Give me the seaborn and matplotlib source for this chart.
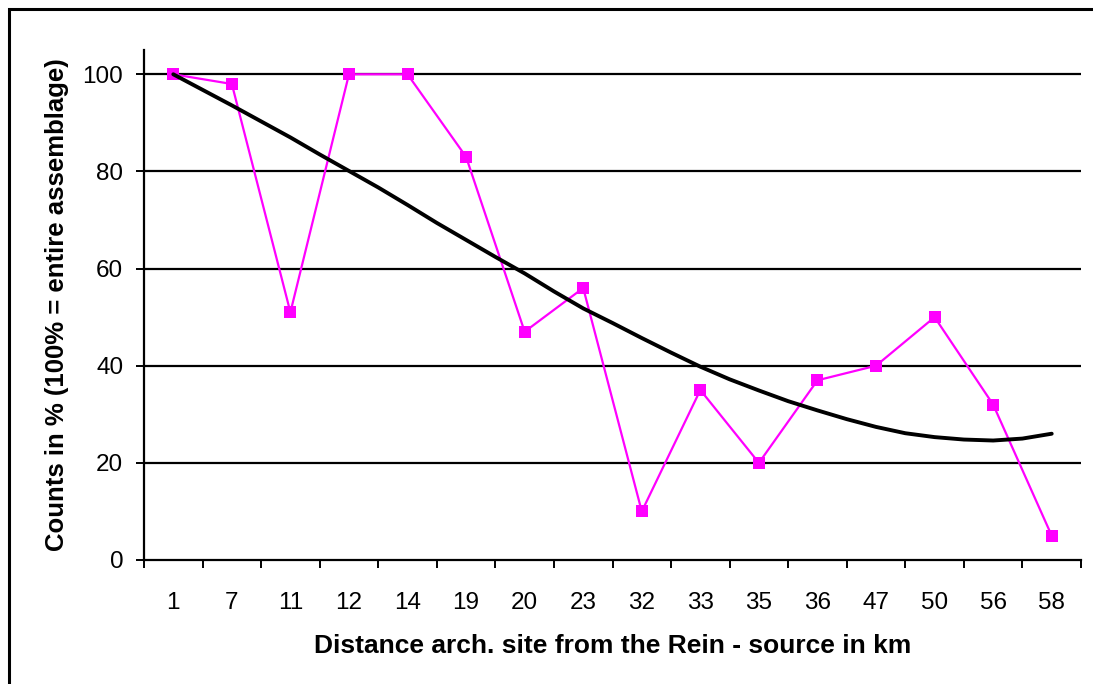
import matplotlib
matplotlib.use("Agg")
import matplotlib.pyplot as plt
import seaborn as sns
import pandas as pd
from matplotlib.patches import Rectangle

sns.set_theme(style="white")
plt.rcParams['font.family'] = ['Liberation Sans', 'DejaVu Sans']

categories = ["1", "7", "11", "12", "14", "19", "20", "23", "32", "33", "35", "36", "47", "50", "56", "58"]
counts = [100, 98, 51, 100, 100, 83, 47, 56, 10, 35, 20, 37, 40, 50, 32, 5]

# trend line, at category positions and half steps
trend_pos = [0, 0.5, 1, 1.5, 2, 2.5, 3, 3.5, 4, 4.5, 5, 5.5, 6, 6.5, 7, 7.5,
             8, 8.5, 9, 9.5, 10, 10.5, 11, 11.5, 12, 12.5, 13, 13.5, 14, 14.5, 15]
trend_val = [100, 96.8, 93.6, 90.3, 87.0, 83.5, 80.1, 76.7, 73.1, 69.4, 65.9, 62.4,
             59.0, 55.3, 51.8, 48.8, 45.7, 42.7, 39.8, 37.2, 34.9, 32.7, 30.8, 29.0,
             27.4, 26.1, 25.3, 24.8, 24.6, 25.0, 26.0]

df = pd.DataFrame({"pos": range(len(categories)), "count": counts})
tr = pd.DataFrame({"pos": trend_pos, "val": trend_val})

fig = plt.figure(figsize=(10.93, 6.84), dpi=100)
ax = fig.add_axes([144/1093, 1-560/684, (1081-144)/1093, 510/684])

for yv in [20, 40, 60, 80, 100]:
    ax.axhline(yv, color="black", lw=1.6, zorder=0)

sns.lineplot(data=df, x="pos", y="count", ax=ax, color="#FF00FF", lw=1.6,
             marker="s", markersize=8.8, markeredgewidth=0, zorder=3)
sns.lineplot(data=tr, x="pos", y="val", ax=ax, color="black", lw=2.8, zorder=4)

ax.set_xlim(-0.5, 15.5)
ax.set_ylim(0, 105)
ax.set_yticks([0, 20, 40, 60, 80, 100])
ax.set_xticks([i - 0.5 for i in range(17)])
ax.set_xticklabels([])
ax.set_xticks(range(16), minor=True)
ax.set_xticklabels(categories, minor=True)
ax.tick_params(axis="x", which="major", length=5.5, width=1.4, direction="out", color="black")
ax.tick_params(axis="x", which="minor", length=0, labelsize=17.5, pad=23, labelcolor="black")
ax.tick_params(axis="y", length=6, width=1.4, direction="out", labelsize=17.5, pad=9, color="black", labelcolor="black")
ax.xaxis.set_ticks_position("bottom")
ax.yaxis.set_ticks_position("left")

for s in ["top", "right"]:
    ax.spines[s].set_visible(False)
for s in ["left", "bottom"]:
    ax.spines[s].set_color("black")
    ax.spines[s].set_linewidth(1.6)

ax.set_xlabel("Distance arch. site from the Rein - source in km", fontsize=19,
              fontweight="bold", color="black", labelpad=14.5)
ax.set_ylabel("Counts in % (100% = entire assemblage)", fontsize=18.5,
              fontweight="bold", color="black", labelpad=10)

fig.patches.append(Rectangle((9/1093, -0.1), 1.2, 1 - 9/684 + 0.1, transform=fig.transFigure,
                             fill=False, edgecolor="black", lw=2.2))

fig.savefig("out.png", dpi=100)
